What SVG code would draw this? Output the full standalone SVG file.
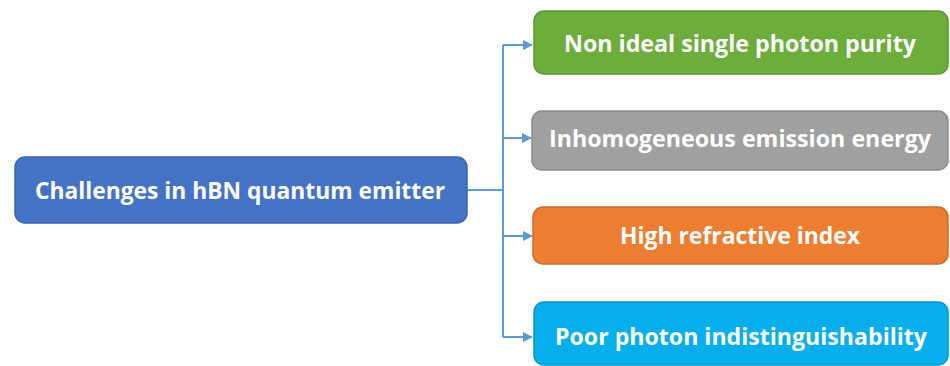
<svg xmlns="http://www.w3.org/2000/svg" width="950" height="366" viewBox="0 0 950 366">
<defs>
<style>
.box{stroke-width:1.5}
.t{font-family:"Open Sans","Noto Sans",sans-serif;font-weight:bold;font-size:22.5px;fill:#ffffff;text-anchor:middle;dominant-baseline:central}
.c{fill:none;stroke:#5b9bd5;stroke-width:2}
</style>
<marker id="ah" viewBox="0 0 10 10" refX="9" refY="5" markerWidth="5" markerHeight="5" orient="auto" markerUnits="strokeWidth">
<path d="M0,0 L10,5 L0,10 z" fill="#5b9bd5"/>
</marker>
</defs>
<rect width="950" height="366" fill="#ffffff"/>
<g id="connectors">
<path class="c" d="M467,190 H503"/>
<path class="c" d="M503,45 V337"/>
<path class="c" d="M503,45 H532" marker-end="url(#ah)"/>
<path class="c" d="M503,138 H531" marker-end="url(#ah)"/>
<path class="c" d="M503,236 H532" marker-end="url(#ah)"/>
<path class="c" d="M503,337 H532" marker-end="url(#ah)"/>
</g>
<g id="main">
<rect class="box" x="15" y="157" width="452" height="66" rx="10" fill="#4472c4" stroke="#3a65b0"/>
<text class="t" x="240" y="190" textLength="410" lengthAdjust="spacingAndGlyphs">Challenges in hBN quantum emitter</text>
</g>
<g id="n1">
<rect class="box" x="534" y="11" width="414" height="63" rx="10" fill="#6cad3c" stroke="#5a9532"/>
<text class="t" x="740" y="43" textLength="352" lengthAdjust="spacingAndGlyphs">Non ideal single photon purity</text>
</g>
<g id="n2">
<rect class="box" x="532" y="111" width="416" height="59" rx="10" fill="#a0a0a0" stroke="#8a8a8a"/>
<text class="t" x="740" y="138" textLength="382" lengthAdjust="spacingAndGlyphs">Inhomogeneous emission energy</text>
</g>
<g id="n3">
<rect class="box" x="533" y="207" width="415" height="57" rx="10" fill="#ed7d31" stroke="#cc6a28"/>
<text class="t" x="740" y="235" textLength="240" lengthAdjust="spacingAndGlyphs">High refractive index</text>
</g>
<g id="n4">
<rect class="box" x="534" y="302" width="414" height="63" rx="10" fill="#07aeec" stroke="#0595c9"/>
<text class="t" x="741" y="336" textLength="372" lengthAdjust="spacingAndGlyphs">Poor photon indistinguishability</text>
</g>
</svg>
